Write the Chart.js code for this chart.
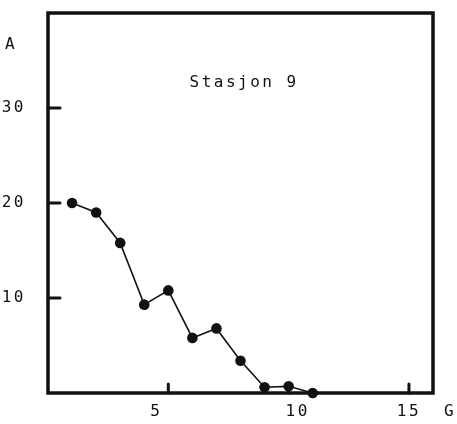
<!DOCTYPE html>
<html>
<head>
<meta charset="utf-8">
<script src="https://cdn.jsdelivr.net/npm/chart.js@4.4.1/dist/chart.umd.min.js"></script>
<style>
  html, body { margin: 0; padding: 0; background: #fff; }
  canvas { display: block; }
</style>
</head>
<body>
<canvas id="c" width="457" height="424"></canvas>
<script>
// ---- data ----
const xValues = [1, 2, 3, 4, 5, 6, 7, 8, 9, 10, 11];
const yValues = [20, 19, 15.8, 9.3, 10.8, 5.8, 6.8, 3.4, 0.6, 0.7, 0];
const xTicks = [5, 10, 15];
const yTicks = [10, 20, 30];
const titleText = 'Stasjon 9';
const xAxisLabel = 'G';
const yAxisLabel = 'A';

const INK = '#111';
const FONT = 'DejaVu Sans Mono';
// hand-lettered x labels sit slightly off their tick marks (px)
const xLabelShift = [-13, 8, -1];

const framePlugin = {
  id: 'frame',
  beforeDraw(chart) {
    chart.ctx.letterSpacing = '2.5px';
  },
  afterDatasetsDraw(chart) {
    const ctx = chart.ctx;
    const a = chart.chartArea;
    const xs = chart.scales.x, ys = chart.scales.y;
    ctx.save();
    ctx.strokeStyle = INK;
    ctx.lineCap = 'round';
    // frame
    ctx.lineWidth = 3.5;
    ctx.strokeRect(a.left, a.top, a.right - a.left, a.bottom - a.top);
    // inward tick marks
    ctx.lineWidth = 3;
    yTicks.forEach(v => {
      const p = ys.getPixelForValue(v);
      ctx.beginPath(); ctx.moveTo(a.left, p); ctx.lineTo(a.left + 12, p); ctx.stroke();
    });
    xTicks.forEach(v => {
      const p = xs.getPixelForValue(v);
      ctx.beginPath(); ctx.moveTo(p, a.bottom); ctx.lineTo(p, a.bottom - 9); ctx.stroke();
    });
    // texts
    ctx.fillStyle = INK;
    ctx.letterSpacing = '2.5px';
    ctx.font = '16px "' + FONT + '"';
    ctx.textAlign = 'center';
    ctx.textBaseline = 'middle';
    xTicks.forEach((v, i) => {
      ctx.fillText(String(v), xs.getPixelForValue(v) + xLabelShift[i] + 1, a.bottom + 19);
    });
    ctx.fillText(titleText, xs.getPixelForValue(8.15), ys.getPixelForValue(32.6));
    ctx.fillText(yAxisLabel, 11, 45);
    ctx.fillText(xAxisLabel, 450, 412);
    ctx.restore();
  }
};

new Chart(document.getElementById('c'), {
  type: 'line',
  data: {
    datasets: [{
      data: xValues.map((x, i) => ({ x: x, y: yValues[i] })),
      borderColor: INK,
      backgroundColor: INK,
      borderWidth: 1.6,
      pointRadius: 5.3,
      pointBackgroundColor: INK,
      pointBorderColor: INK,
      pointBorderWidth: 0,
      tension: 0,
      fill: false,
      clip: false
    }]
  },
  options: {
    responsive: false,
    animation: false,
    layout: { autoPadding: false, padding: { top: 13, right: 24, left: 0, bottom: 0 } },
    plugins: { legend: { display: false }, tooltip: { enabled: false }, title: { display: false } },
    scales: {
      x: {
        type: 'linear', min: 0, max: 16,
        afterBuildTicks: s => { s.ticks = xTicks.map(v => ({ value: v })); },
        afterFit: s => { s.height = 31; s.paddingLeft = 0; s.paddingRight = 0; },
        grid: { display: false, drawTicks: false },
        border: { display: false },
        ticks: { display: false }
      },
      y: {
        type: 'linear', min: 0, max: 40,
        afterBuildTicks: s => { s.ticks = yTicks.map(v => ({ value: v })); },
        afterFit: s => { s.width = 48; s.paddingTop = 0; s.paddingBottom = 0; },
        grid: { display: false, drawTicks: false },
        border: { display: false },
        ticks: { color: INK, font: { family: FONT, size: 16 }, padding: 22, autoSkip: false }
      }
    }
  },
  plugins: [framePlugin]
});
</script>
</body>
</html>
